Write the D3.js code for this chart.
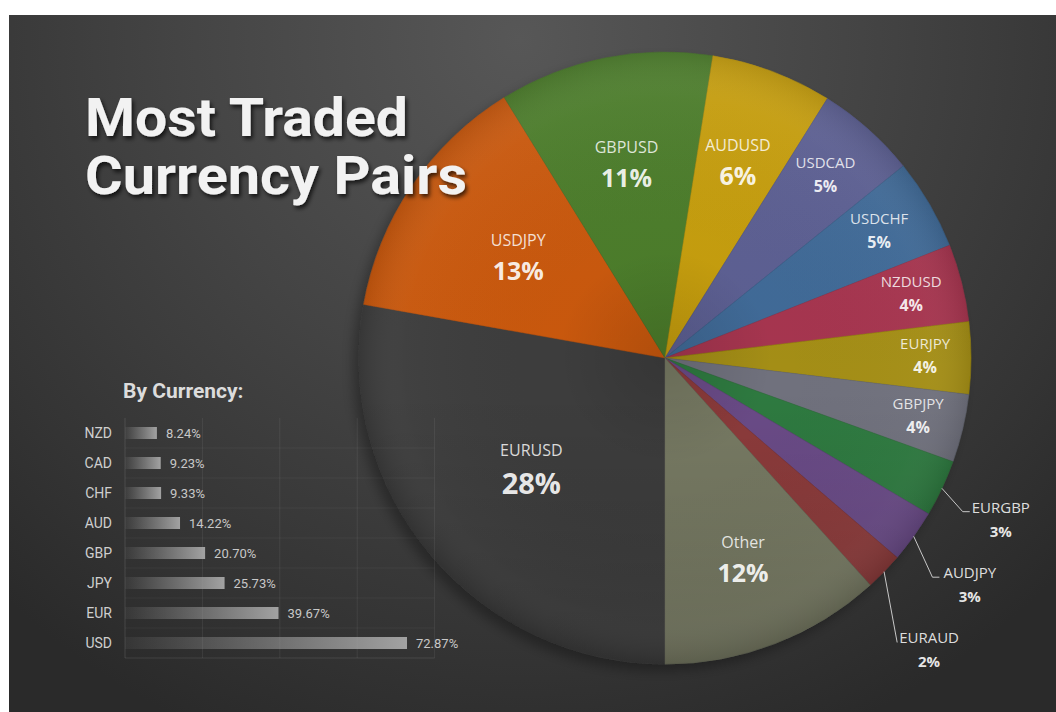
<!DOCTYPE html>
<html>
<head>
<meta charset="utf-8">
<script src="https://cdn.jsdelivr.net/npm/d3@7/dist/d3.min.js"></script>
<style>
  html, body { margin: 0; padding: 0; background: #ffffff; }
  svg { display: block; }
</style>
</head>
<body>
<svg id="chart" width="1056" height="712"></svg>
<script>
// ---------------- DATA ----------------
const pairs = ["EURUSD", "USDJPY", "GBPUSD", "AUDUSD", "USDCAD", "USDCHF", "NZDUSD",
               "EURJPY", "GBPJPY", "EURGBP", "AUDJPY", "EURAUD", "Other"];
const pairShares = [27.8, 13.4, 11.3, 6.4, 5.3, 4.8, 4.1, 3.8, 3.6, 3.0, 2.8, 2.0, 11.7];
const pairColors = ["#3e3e3e", "#c9580f", "#4b7c2c", "#c59d0f", "#5b5e92", "#3f6a97", "#a6364f",
                    "#a48e12", "#6f717d", "#2f7a3f", "#6a4b87", "#8c3a3b", "#777a64"];

const currencies = ["NZD", "CAD", "CHF", "AUD", "GBP", "JPY", "EUR", "USD"];
const currencyShares = [8.24, 9.23, 9.33, 14.22, 20.70, 25.73, 39.67, 72.87];
const currencyTicks = [0, 20, 40, 60, 80];

const titleLines = ["Most Traded", "Currency Pairs"];
const subTitle = "By Currency:";

// ---------------- LAYOUT ----------------
const W = 1056, H = 712;
const svg = d3.select("#chart");
const defs = svg.append("defs");

// background gradient
const bg = defs.append("radialGradient").attr("id", "bgGrad")
  .attr("gradientUnits", "userSpaceOnUse")
  .attr("cx", 520).attr("cy", 40).attr("r", 760);
bg.append("stop").attr("offset", "0%").attr("stop-color", "#575757");
bg.append("stop").attr("offset", "45%").attr("stop-color", "#444444");
bg.append("stop").attr("offset", "80%").attr("stop-color", "#343434");
bg.append("stop").attr("offset", "100%").attr("stop-color", "#2a2a2a");

svg.append("rect").attr("x", 0).attr("y", 0).attr("width", W).attr("height", H).attr("fill", "#ffffff");
svg.append("rect").attr("x", 9).attr("y", 15).attr("width", W - 9).attr("height", H - 15)
  .attr("fill", "url(#bgGrad)");

// shadows
const sh = defs.append("filter").attr("id", "pieShadow")
  .attr("x", "-20%").attr("y", "-20%").attr("width", "140%").attr("height", "140%");
sh.append("feDropShadow").attr("dx", -6).attr("dy", 7).attr("stdDeviation", 6)
  .attr("flood-color", "#000").attr("flood-opacity", 0.3);

const tsh = defs.append("filter").attr("id", "titleShadow")
  .attr("x", "-10%").attr("y", "-20%").attr("width", "130%").attr("height", "150%");
tsh.append("feDropShadow").attr("dx", 2).attr("dy", 3).attr("stdDeviation", 2.2)
  .attr("flood-color", "#000").attr("flood-opacity", 0.7);

// ---------------- PIE ----------------
const cx = 665, cy = 358, R = 306;
const pieG = svg.append("g").attr("transform", `translate(${cx},${cy})`);

const pieData = pairs.map((p, i) => ({ name: p, value: pairShares[i], color: pairColors[i] }));
const pie = d3.pie().value(d => d.value).sort(null)
  .startAngle(Math.PI).endAngle(3 * Math.PI);
const arcs = pie(pieData);
const arc = d3.arc().innerRadius(0).outerRadius(R);

const slices = pieG.append("g").attr("filter", "url(#pieShadow)");
slices.selectAll("path").data(arcs).join("path")
  .attr("d", arc)
  .attr("fill", d => d.data.color)
  .attr("stroke", d => d3.color(d.data.color).darker(0.2))
  .attr("stroke-width", 0.5);

// shading overlay
const shade = defs.append("radialGradient").attr("id", "pieShade")
  .attr("gradientUnits", "userSpaceOnUse").attr("cx", 0).attr("cy", 0).attr("r", R);
shade.append("stop").attr("offset", "0%").attr("stop-color", "#000").attr("stop-opacity", 0.12);
shade.append("stop").attr("offset", "35%").attr("stop-color", "#000").attr("stop-opacity", 0.0);
shade.append("stop").attr("offset", "85%").attr("stop-color", "#fff").attr("stop-opacity", 0.02);
shade.append("stop").attr("offset", "100%").attr("stop-color", "#000").attr("stop-opacity", 0.1);
pieG.append("circle").attr("r", R).attr("fill", "url(#pieShade)").attr("pointer-events", "none");

const vshade = defs.append("linearGradient").attr("id", "pieVShade")
  .attr("x1", 0).attr("y1", 0).attr("x2", 0).attr("y2", 1);
vshade.append("stop").attr("offset", "0%").attr("stop-color", "#fff").attr("stop-opacity", 0.04);
vshade.append("stop").attr("offset", "55%").attr("stop-color", "#000").attr("stop-opacity", 0.0);
vshade.append("stop").attr("offset", "100%").attr("stop-color", "#000").attr("stop-opacity", 0.14);
pieG.append("circle").attr("r", R).attr("fill", "url(#pieVShade)").attr("pointer-events", "none");

// label placement (layout, not data)
const insideRadius = { EURUSD: 0.57, USDJPY: 0.58, GBPUSD: 0.64, AUDUSD: 0.68, USDCAD: 0.79,
  USDCHF: 0.81, NZDUSD: 0.83, EURJPY: 0.85, GBPJPY: 0.85, Other: 0.71 };
const outsideLabel = {
  EURGBP: { r: 1.095, da: 2.1, tick: 7, tx: 9 },
  AUDJPY: { r: 1.13, da: 3.7, tick: 7, tx: 11 },
  EURAUD: { r: 1.20, da: 6.5, tick: 0, tx: 2 }
};
const pctSize = d3.scaleThreshold().domain([6, 20]).range([16, 25, 29]);
const fmtPct = v => Math.round(v) + "%";
const labelFont = "'Open Sans', 'Noto Sans', sans-serif";

const labels = pieG.append("g");
arcs.forEach(d => {
  const name = d.data.name;
  const mid = (d.startAngle + d.endAngle) / 2;
  if (insideRadius[name] !== undefined) {
    const rr = insideRadius[name] * R;
    const [lx, ly] = d3.arc().innerRadius(rr).outerRadius(rr)
      .startAngle(mid).endAngle(mid).centroid();
    const fs = pctSize(d.data.value);
    labels.append("text")
      .attr("x", lx).attr("y", ly - (2 + 0.42 * fs))
      .attr("text-anchor", "middle")
      .attr("font-family", labelFont).attr("font-size", fs >= 25 ? 16 : 15)
      .attr("fill", "#ffffff").attr("fill-opacity", 0.82)
      .text(name);
    labels.append("text")
      .attr("x", lx).attr("y", ly + 0.7 * fs + 4)
      .attr("text-anchor", "middle")
      .attr("font-family", labelFont).attr("font-weight", 700).attr("font-size", fs)
      .attr("fill", "#ffffff").attr("fill-opacity", 0.9)
      .text(fmtPct(d.data.value));
  } else if (outsideLabel[name]) {
    const o = outsideLabel[name];
    const [sx, sy] = d3.arc().innerRadius(R).outerRadius(R)
      .startAngle(mid).endAngle(mid).centroid();
    const ea = mid + o.da * Math.PI / 180;
    const [ex, ey] = d3.arc().innerRadius(o.r * R).outerRadius(o.r * R)
      .startAngle(ea).endAngle(ea).centroid();
    labels.append("path")
      .attr("d", d3.line()([[sx, sy], [ex, ey], [ex + o.tick, ey]]))
      .attr("fill", "none").attr("stroke", "#c8c8c8").attr("stroke-width", 1);
    const t = labels.append("text")
      .attr("x", ex + o.tx).attr("y", ey + 1)
      .attr("font-family", labelFont).attr("font-size", 15)
      .attr("fill", "#ffffff").attr("fill-opacity", 0.85)
      .text(name);
    const tw = t.node().getComputedTextLength();
    labels.append("text")
      .attr("x", ex + o.tx + tw / 2).attr("y", ey + 25)
      .attr("text-anchor", "middle")
      .attr("font-family", labelFont).attr("font-weight", 700).attr("font-size", 15)
      .attr("fill", "#ffffff").attr("fill-opacity", 0.9)
      .text(fmtPct(d.data.value));
  }
});

// ---------------- TITLE (drawn over the pie) ----------------
const titleWidths = [323, 382];
svg.append("g").attr("filter", "url(#titleShadow)")
  .selectAll("text").data(titleLines).join("text")
  .attr("x", 85)
  .attr("y", (d, i) => 136 + i * 58)
  .attr("font-family", "Roboto, 'Open Sans', sans-serif")
  .attr("font-weight", 700)
  .attr("font-size", 53)
  .attr("textLength", (d, i) => titleWidths[i])
  .attr("lengthAdjust", "spacingAndGlyphs")
  .attr("fill", "#f2f2f2")
  .text(d => d);

// ---------------- BAR CHART ----------------
svg.append("text")
  .attr("x", 123).attr("y", 398)
  .attr("font-family", "Roboto, sans-serif").attr("font-weight", 700).attr("font-size", 21)
  .attr("fill", "#dcdcdc")
  .text(subTitle);

const x = d3.scaleLinear().domain([0, 80]).range([125, 434.6]);
const y = d3.scaleBand().domain(currencies).range([418, 658]).paddingInner(0.6).paddingOuter(0.3);

const barG = svg.append("g");
// faint grid
barG.selectAll("line.v").data(currencyTicks).join("line").attr("class", "v")
  .attr("x1", d => x(d)).attr("x2", d => x(d))
  .attr("y1", 418).attr("y2", 658)
  .attr("stroke", "#ffffff").attr("stroke-opacity", d => d === 0 ? 0.12 : 0.07);
barG.selectAll("line.h").data(currencies.slice(1)).join("line").attr("class", "h")
  .attr("x1", x(0)).attr("x2", x(80))
  .attr("y1", d => y(d) - y.step() * y.paddingInner() / 2)
  .attr("y2", d => y(d) - y.step() * y.paddingInner() / 2)
  .attr("stroke", "#ffffff").attr("stroke-opacity", 0.05);
barG.append("line").attr("x1", x(0)).attr("x2", x(80)).attr("y1", 658).attr("y2", 658)
  .attr("stroke", "#ffffff").attr("stroke-opacity", 0.1);

const bgGrad = defs.append("linearGradient").attr("id", "barGrad")
  .attr("x1", 0).attr("y1", 0).attr("x2", 1).attr("y2", 0);
bgGrad.append("stop").attr("offset", "0%").attr("stop-color", "#9a9a9a").attr("stop-opacity", 0.08);
bgGrad.append("stop").attr("offset", "100%").attr("stop-color", "#a8a8a8").attr("stop-opacity", 0.95);

barG.selectAll("rect.bar").data(currencies).join("rect").attr("class", "bar")
  .attr("x", x(0))
  .attr("y", d => y(d))
  .attr("width", (d, i) => x(currencyShares[i]) - x(0))
  .attr("height", y.bandwidth())
  .attr("fill", "url(#barGrad)");

barG.selectAll("text.cat").data(currencies).join("text").attr("class", "cat")
  .attr("x", 112).attr("y", d => y(d) + y.bandwidth() / 2)
  .attr("dy", "0.35em").attr("text-anchor", "end")
  .attr("font-family", "Roboto, sans-serif").attr("font-size", 14)
  .attr("fill", "#cfcfcf")
  .text(d => d);

barG.selectAll("text.val").data(currencies).join("text").attr("class", "val")
  .attr("x", (d, i) => x(currencyShares[i]) + 9)
  .attr("y", d => y(d) + y.bandwidth() / 2)
  .attr("dy", "0.35em")
  .attr("font-family", "Roboto, sans-serif").attr("font-size", 13)
  .attr("fill", "#c8c8c8")
  .text((d, i) => currencyShares[i].toFixed(2) + "%");
</script>
</body>
</html>
